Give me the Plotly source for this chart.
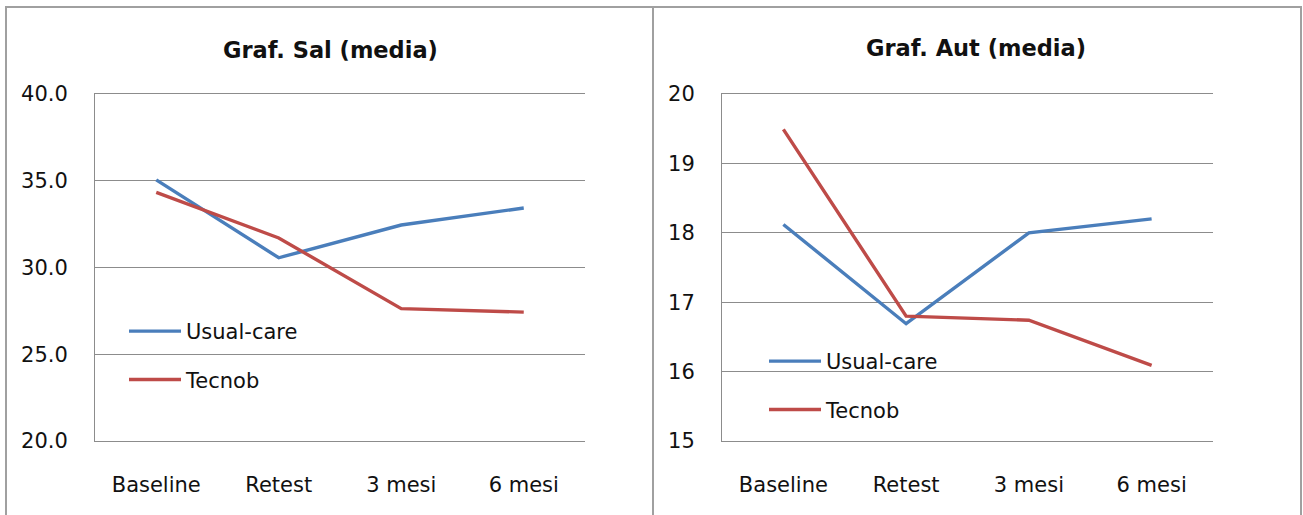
import plotly.graph_objects as go

W, H = 1303, 515

# data
categories = ["Baseline", "Retest", "3 mesi", "6 mesi"]
sal_usual = [35.05, 30.56, 32.45, 33.43]
sal_tecnob = [34.33, 31.70, 27.63, 27.43]
aut_usual = [18.12, 16.69, 18.00, 18.20]
aut_tecnob = [19.49, 16.80, 16.74, 16.09]
sal_ticks = [20, 25, 30, 35, 40]
aut_ticks = [15, 16, 17, 18, 19, 20]

BLUE = "#4A7EBB"
RED = "#BE4B48"
FONT = "DejaVu Sans"
TEXT = "#111111"
GRID = "#8c8c8c"


def px(x):
    return x / W


def py(y):
    return 1 - y / H


fig = go.Figure()

fig.add_trace(go.Scatter(x=categories, y=sal_usual, name="Usual-care", mode="lines",
                         line=dict(color=BLUE, width=3.4), xaxis="x", yaxis="y",
                         legend="legend", legendgroup="a"))
fig.add_trace(go.Scatter(x=categories, y=sal_tecnob, name="Tecnob", mode="lines",
                         line=dict(color=RED, width=3.4), xaxis="x", yaxis="y",
                         legend="legend", legendgroup="b"))
fig.add_trace(go.Scatter(x=categories, y=aut_usual, name="Usual-care", mode="lines",
                         line=dict(color=BLUE, width=3.4), xaxis="x2", yaxis="y2",
                         legend="legend2", legendgroup="c"))
fig.add_trace(go.Scatter(x=categories, y=aut_tecnob, name="Tecnob", mode="lines",
                         line=dict(color=RED, width=3.4), xaxis="x2", yaxis="y2",
                         legend="legend2", legendgroup="d"))

y_dom = [py(441), py(94)]
tickfont = dict(family=FONT, size=21, color=TEXT)
legfont = dict(family=FONT, size=21, color=TEXT)

# x axis line (mirrored) gives the bottom and top rules of each plot area
xcommon = dict(type="category", range=[-0.5, 3.5], showgrid=False, ticks="",
               showline=True, mirror=True, linecolor=GRID, linewidth=1,
               zeroline=False, tickfont=tickfont, ticklabelstandoff=25,
               automargin=False)
ycommon = dict(showgrid=True, gridcolor=GRID, gridwidth=1, ticks="",
               showline=True, linecolor=GRID, linewidth=1, zeroline=False,
               tickfont=tickfont, ticklabelstandoff=22, automargin=False)

fig.update_layout(
    width=W, height=H,
    margin=dict(l=0, r=0, t=0, b=0, pad=0, autoexpand=False),
    paper_bgcolor="white", plot_bgcolor="white",
    xaxis=dict(domain=[px(95), px(585)], anchor="y", **xcommon),
    yaxis=dict(domain=y_dom, anchor="x", range=[20, 40], tickvals=sal_ticks,
               tickformat=".1f", **ycommon),
    xaxis2=dict(domain=[px(722), px(1213)], anchor="y2", **xcommon),
    yaxis2=dict(domain=y_dom, anchor="x2", range=[15, 20], tickvals=aut_ticks, **ycommon),
    legend=dict(x=px(124), y=py(311), xanchor="left", yanchor="top",
                bgcolor="rgba(0,0,0,0)", tracegroupgap=18, itemwidth=52,
                font=legfont),
    legend2=dict(x=px(764), y=py(341), xanchor="left", yanchor="top",
                 bgcolor="rgba(0,0,0,0)", tracegroupgap=18, itemwidth=52,
                 font=legfont),
    showlegend=True,
    shapes=[
        dict(type="rect", xref="paper", yref="paper", x0=px(6), x1=px(653),
             y0=py(530), y1=py(7), line=dict(color="#a0a0a0", width=2)),
        dict(type="rect", xref="paper", yref="paper", x0=px(653), x1=px(1301),
             y0=py(530), y1=py(7), line=dict(color="#a0a0a0", width=2)),
    ],
    annotations=[
        dict(text="<b>Graf. Sal (media)</b>", x=px(330), y=py(50), xref="paper", yref="paper",
             showarrow=False, xanchor="center", yanchor="middle",
             font=dict(family=FONT, size=22.5, color=TEXT)),
        dict(text="<b>Graf. Aut (media)</b>", x=px(976), y=py(48), xref="paper", yref="paper",
             showarrow=False, xanchor="center", yanchor="middle",
             font=dict(family=FONT, size=22.5, color=TEXT)),
    ],
)

fig.write_html("out.html")
